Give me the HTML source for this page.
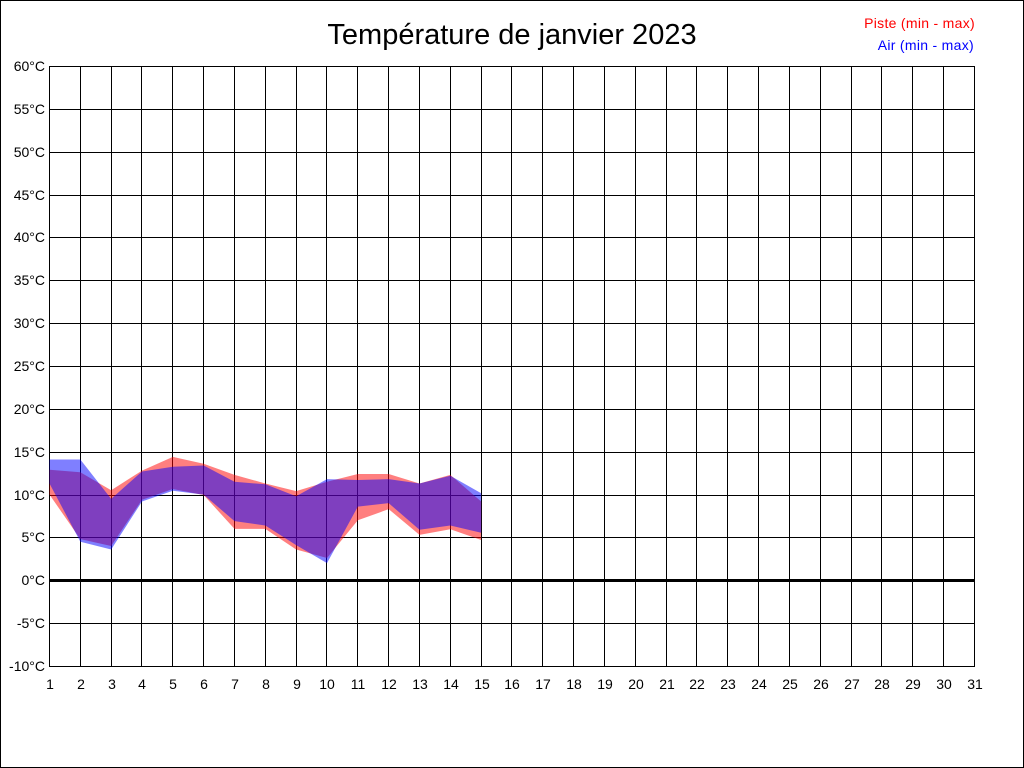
<!DOCTYPE html>
<html>
<head>
<meta charset="utf-8">
<style>
  html, body { margin: 0; padding: 0; background: #fff; }
  svg { display: block; }
  text { font-family: "Liberation Sans", Arial, sans-serif; }
</style>
</head>
<body>
<svg width="1024" height="768" viewBox="0 0 1024 768" xmlns="http://www.w3.org/2000/svg">
  <rect x="0.5" y="0.5" width="1023" height="767" fill="#fff" stroke="#000" stroke-width="1"/>

  <g stroke="#000" stroke-width="1" shape-rendering="crispEdges">
    <line x1="49" y1="66.5" x2="975" y2="66.5"/>
    <line x1="49" y1="109.5" x2="975" y2="109.5"/>
    <line x1="49" y1="152.5" x2="975" y2="152.5"/>
    <line x1="49" y1="195.5" x2="975" y2="195.5"/>
    <line x1="49" y1="237.5" x2="975" y2="237.5"/>
    <line x1="49" y1="280.5" x2="975" y2="280.5"/>
    <line x1="49" y1="323.5" x2="975" y2="323.5"/>
    <line x1="49" y1="366.5" x2="975" y2="366.5"/>
    <line x1="49" y1="409.5" x2="975" y2="409.5"/>
    <line x1="49" y1="452.5" x2="975" y2="452.5"/>
    <line x1="49" y1="495.5" x2="975" y2="495.5"/>
    <line x1="49" y1="537.5" x2="975" y2="537.5"/>
    <line x1="49" y1="623.5" x2="975" y2="623.5"/>
    <line x1="49" y1="666.5" x2="975" y2="666.5"/>
    <line x1="49.5" y1="66" x2="49.5" y2="667"/>
    <line x1="80.5" y1="66" x2="80.5" y2="667"/>
    <line x1="111.5" y1="66" x2="111.5" y2="667"/>
    <line x1="141.5" y1="66" x2="141.5" y2="667"/>
    <line x1="172.5" y1="66" x2="172.5" y2="667"/>
    <line x1="203.5" y1="66" x2="203.5" y2="667"/>
    <line x1="234.5" y1="66" x2="234.5" y2="667"/>
    <line x1="265.5" y1="66" x2="265.5" y2="667"/>
    <line x1="296.5" y1="66" x2="296.5" y2="667"/>
    <line x1="326.5" y1="66" x2="326.5" y2="667"/>
    <line x1="357.5" y1="66" x2="357.5" y2="667"/>
    <line x1="388.5" y1="66" x2="388.5" y2="667"/>
    <line x1="419.5" y1="66" x2="419.5" y2="667"/>
    <line x1="450.5" y1="66" x2="450.5" y2="667"/>
    <line x1="481.5" y1="66" x2="481.5" y2="667"/>
    <line x1="511.5" y1="66" x2="511.5" y2="667"/>
    <line x1="542.5" y1="66" x2="542.5" y2="667"/>
    <line x1="573.5" y1="66" x2="573.5" y2="667"/>
    <line x1="604.5" y1="66" x2="604.5" y2="667"/>
    <line x1="635.5" y1="66" x2="635.5" y2="667"/>
    <line x1="666.5" y1="66" x2="666.5" y2="667"/>
    <line x1="696.5" y1="66" x2="696.5" y2="667"/>
    <line x1="727.5" y1="66" x2="727.5" y2="667"/>
    <line x1="758.5" y1="66" x2="758.5" y2="667"/>
    <line x1="789.5" y1="66" x2="789.5" y2="667"/>
    <line x1="820.5" y1="66" x2="820.5" y2="667"/>
    <line x1="851.5" y1="66" x2="851.5" y2="667"/>
    <line x1="881.5" y1="66" x2="881.5" y2="667"/>
    <line x1="912.5" y1="66" x2="912.5" y2="667"/>
    <line x1="943.5" y1="66" x2="943.5" y2="667"/>
    <line x1="974.5" y1="66" x2="974.5" y2="667"/>
  </g>

  <rect x="49" y="579" width="926" height="3" fill="#000"/>

  <g transform="translate(49.5,580.3) scale(30.8333,-8.5714) translate(-1,0)">
    <polygon fill="rgba(255,0,0,0.5)" points="1,12.9 2,12.6 3,10.5 4,12.8 5,14.4 6,13.6 7,12.3 8,11.3 9,10.4 10,11.5 11,12.4 12,12.4 13,11.3 14,12.3 15,9.2 15,4.7 14,5.95 13,5.3 12,8.3 11,7.0 10,2.6 9,3.6 8,6.0 7,6.0 6,9.95 5,10.65 4,9.4 3,4.0 2,4.8 1,10.0"/>
    <polygon fill="rgba(0,0,255,0.5)" points="1,14.1 2,14.1 3,9.5 4,12.7 5,13.25 6,13.4 7,11.5 8,11.2 9,9.8 10,11.8 11,11.7 12,11.8 13,11.3 14,12.2 15,10.15 15,5.55 14,6.4 13,5.9 12,9.0 11,8.6 10,2.0 9,4.1 8,6.4 7,6.9 6,10.0 5,10.45 4,9.2 3,3.6 2,4.5 1,11.3"/>
  </g>

  <g font-size="14" fill="#000" text-anchor="end">
    <text x="45" y="71">60°C</text>
    <text x="45" y="114">55°C</text>
    <text x="45" y="157">50°C</text>
    <text x="45" y="200">45°C</text>
    <text x="45" y="242">40°C</text>
    <text x="45" y="285">35°C</text>
    <text x="45" y="328">30°C</text>
    <text x="45" y="371">25°C</text>
    <text x="45" y="414">20°C</text>
    <text x="45" y="457">15°C</text>
    <text x="45" y="500">10°C</text>
    <text x="45" y="542">5°C</text>
    <text x="45" y="585">0°C</text>
    <text x="45" y="628">-5°C</text>
    <text x="45" y="671">-10°C</text>
  </g>

  <g font-size="14" fill="#000" text-anchor="middle">
    <text x="50" y="689">1</text>
    <text x="81" y="689">2</text>
    <text x="112" y="689">3</text>
    <text x="142" y="689">4</text>
    <text x="173" y="689">5</text>
    <text x="204" y="689">6</text>
    <text x="235" y="689">7</text>
    <text x="266" y="689">8</text>
    <text x="297" y="689">9</text>
    <text x="327" y="689">10</text>
    <text x="358" y="689">11</text>
    <text x="389" y="689">12</text>
    <text x="420" y="689">13</text>
    <text x="451" y="689">14</text>
    <text x="482" y="689">15</text>
    <text x="512" y="689">16</text>
    <text x="543" y="689">17</text>
    <text x="574" y="689">18</text>
    <text x="605" y="689">19</text>
    <text x="636" y="689">20</text>
    <text x="667" y="689">21</text>
    <text x="697" y="689">22</text>
    <text x="728" y="689">23</text>
    <text x="759" y="689">24</text>
    <text x="790" y="689">25</text>
    <text x="821" y="689">26</text>
    <text x="852" y="689">27</text>
    <text x="882" y="689">28</text>
    <text x="913" y="689">29</text>
    <text x="944" y="689">30</text>
    <text x="975" y="689">31</text>
  </g>

  <text x="512" y="44" font-size="29" text-anchor="middle" fill="#000">Température de janvier 2023</text>

  <text x="975" y="28" font-size="14" text-anchor="end" fill="#ff0000" letter-spacing="0.3">Piste (min - max)</text>
  <text x="974" y="50" font-size="14" text-anchor="end" fill="#0000ff" letter-spacing="0.3">Air (min - max)</text>
</svg>
</body>
</html>
